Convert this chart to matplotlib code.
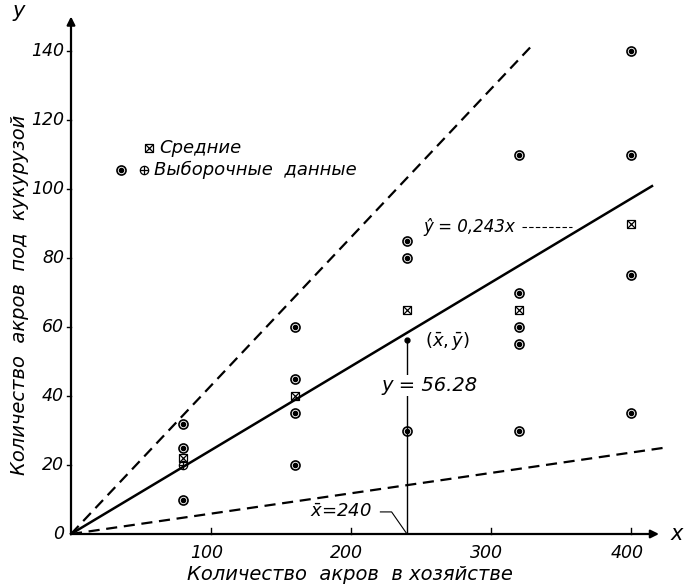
import matplotlib
matplotlib.use("Agg")
import matplotlib.pyplot as plt

plt.rcParams['font.family'] = ['DejaVu Sans']

# ---- data ----
sample_x = [80, 80, 80, 160, 160, 160, 160, 240, 240, 240,
            320, 320, 320, 320, 320, 400, 400, 400, 400]
sample_y = [32, 25, 10, 60, 45, 35, 20, 85, 80, 30,
            110, 70, 60, 55, 30, 140, 110, 75, 35]
plus_x = [80]
plus_y = [20]
mean_x = [80, 160, 240, 320, 400]
mean_y = [22, 40, 65, 65, 90]
x_bar = 240
y_bar = 56.28
b_reg = 0.243
b_upper = 0.43
b_lower = 0.059
x_ticks = [100, 200, 300, 400]
y_ticks = [0, 20, 40, 60, 80, 100, 120, 140]

W, H = 685, 587
fig = plt.figure(figsize=(W / 100, H / 100), dpi=100)
x0, y0 = 71, 534
ax = fig.add_axes([x0 / W, (H - y0) / H, 1.4 * 420 / W, 3.45 * 150 / H])
ax.set_xlim(0, 420)
ax.set_ylim(0, 150)
for s in ax.spines.values():
    s.set_visible(False)
ax.set_xticks([])
ax.set_yticks([])

fs = dict(style='italic', fontsize=12.5, color='black')

# axes with arrows
ax.annotate('', xy=(420, 0), xytext=(0, 0), annotation_clip=False,
            arrowprops=dict(arrowstyle='-|>', lw=1.6, color='black',
                            mutation_scale=12, shrinkA=0, shrinkB=0))
ax.annotate('', xy=(0, 150), xytext=(0, 0), annotation_clip=False,
            arrowprops=dict(arrowstyle='-|>', lw=1.6, color='black',
                            mutation_scale=12, shrinkA=0, shrinkB=0))
# ticks
for t in x_ticks:
    ax.plot([t, t], [0, 1.6], color='black', lw=1, clip_on=False)
    ax.text(t - 3, -3, str(t), ha='center', va='top', **fs)
for t in y_ticks:
    if t > 0:
        ax.plot([-3, 0], [t, t], color='black', lw=1, clip_on=False)
    ax.text(-5, t, str(t), ha='right', va='center', **fs)
ax.text(428, 0, 'x', ha='left', va='center', style='italic', fontsize=15)
ax.text(-37, 151.5, 'y', ha='center', va='center', style='italic', fontsize=15)

fig.text(350 / W, 1 - 575 / H, 'Количество  акров  в хозяйстве',
         ha='center', va='center', fontsize=14, style='italic')
fig.text(20 / W, 1 - 295 / H, 'Количество  акров  под  кукурузой',
         ha='center', va='center', rotation=90, fontsize=14, style='italic')

# lines
ax.plot([0, 415], [0, b_reg * 415], color='black', lw=1.8, clip_on=False)
ax.plot([0, 330], [0, b_upper * 330], color='black', lw=1.6, ls=(0, (5, 3)), clip_on=False)
ax.plot([0, 425], [0, b_lower * 425], color='black', lw=1.6, ls=(0, (5, 3)), clip_on=False)

# vertical line at x_bar
ax.plot([x_bar, x_bar], [0, y_bar], color='black', lw=1)
ax.plot([x_bar], [y_bar], 'o', color='black', ms=3.5)

# samples
ax.plot(sample_x, sample_y, 'o', mfc='none', mec='black', mew=1.2, ms=6.5, clip_on=False)
ax.plot(sample_x, sample_y, 'o', color='black', ms=3, clip_on=False)
ax.plot(plus_x, plus_y, 'o', mfc='none', mec='black', mew=0.9, ms=6)
ax.plot(plus_x, plus_y, '+', color='black', mew=0.9, ms=6)
# means
ax.plot(mean_x, mean_y, 's', mfc='none', mec='black', mew=0.9, ms=6)
ax.plot(mean_x, mean_y, 'x', color='black', mew=0.9, ms=6)

# legend (drawn)
ax.plot([56], [112], 's', mfc='none', mec='black', mew=0.9, ms=6, clip_on=False)
ax.plot([56], [112], 'x', color='black', mew=0.9, ms=6, clip_on=False)
ax.text(63, 112, 'Средние', ha='left', va='center', style='italic', fontsize=13)
ax.plot([36], [105.5], 'o', mfc='none', mec='black', mew=1.2, ms=6.5)
ax.plot([36], [105.5], 'o', color='black', ms=3)
ax.plot([52], [105.5], 'o', mfc='none', mec='black', mew=0.9, ms=6)
ax.plot([52], [105.5], '+', color='black', mew=0.9, ms=6)
ax.text(59, 105.5, 'Выборочные  данные', ha='left', va='center', style='italic', fontsize=13)

# annotations
ax.text(252, 89, 'ŷ = 0,243x', ha='left', va='center', style='italic', fontsize=12)
ax.plot([322, 358], [89, 89], color='black', lw=0.8, ls=(0, (4, 2)))
ax.text(253, 56, r'$(\bar{x}, \bar{y})$', ha='left', va='center', fontsize=13)
ax.text(222, 43, 'y = 56.28', ha='left', va='center', style='italic', fontsize=14,
        bbox=dict(fc='white', ec='none', pad=0.5))
ax.text(171, 6.4, r'$\bar{x}$' + '=240', ha='left', va='center', style='italic', fontsize=13)
ax.plot([221, 229, 240], [6.4, 6.4, 0], color='black', lw=0.8)

fig.savefig('out.png', dpi=100)
